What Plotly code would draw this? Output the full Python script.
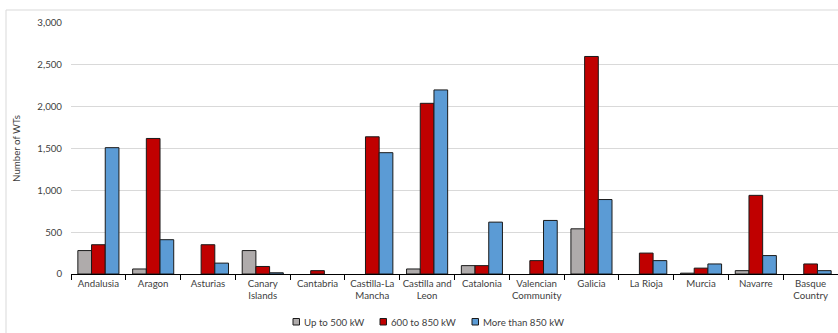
import plotly.graph_objects as go

regions = ["Andalusia", "Aragon", "Asturias", "Canary<br>Islands", "Cantabria",
           "Castilla-La<br>Mancha", "Castilla and<br>Leon", "Catalonia",
           "Valencian<br>Community", "Galicia", "La Rioja", "Murcia", "Navarre",
           "Basque<br>Country"]
up_to_500 = [280, 60, 0, 280, 0, 0, 60, 100, 0, 540, 0, 10, 40, 0]
kw_600_850 = [350, 1620, 350, 90, 40, 1640, 2040, 100, 160, 2600, 250, 70, 940, 120]
more_850 = [1510, 410, 130, 15, 0, 1450, 2200, 620, 640, 890, 160, 120, 220, 40]

series = [("Up to 500 kW", up_to_500, "#AFABAB"),
          ("600 to 850 kW", kw_600_850, "#C00000"),
          ("More than 850 kW", more_850, "#5B9BD5")]

FONT = "Lato"
FS = 9.7
TXT = "#404040"

L, R, T, B = 71, 0, 23, 59
W, H = 838, 333
pw, ph = W - L - R, H - T - B


def px_x(p):
    return (p - L) / pw


def px_y(p):
    return (H - B - p) / ph


fig = go.Figure()
for name, vals, col in series:
    fig.add_trace(go.Bar(x=regions, y=[v if v else None for v in vals], name=name,
                         marker=dict(color=col, line=dict(color="#1a1a1a", width=1))))

# custom legend (boxes + labels)
legend_pos = [(293, 302), (380, 389), (472, 481)]
shapes = [dict(type="rect", xref="paper", yref="paper",
               x0=px_x(6), x1=1.2, y0=-0.5, y1=px_y(10),
               line=dict(color="#D9D9D9", width=1), fillcolor="rgba(0,0,0,0)",
               layer="below")]
annotations = []
ly = 321.5
for (bx, tx), (name, _, col) in zip(legend_pos, series):
    shapes.append(dict(type="rect", xref="paper", yref="paper",
                       x0=px_x(bx), x1=px_x(bx + 6.5), y0=px_y(ly + 3.5), y1=px_y(ly - 3),
                       line=dict(color="#1a1a1a", width=1), fillcolor=col))
    annotations.append(dict(text=name, xref="paper", yref="paper", x=px_x(tx), y=px_y(ly),
                            xanchor="left", yanchor="middle", showarrow=False,
                            font=dict(family=FONT, size=FS, color=TXT)))

fig.update_layout(
    width=W, height=H,
    margin=dict(l=L, r=R, t=T, b=B, pad=0),
    paper_bgcolor="white", plot_bgcolor="white",
    barmode="group", bargap=0.25, bargroupgap=0,
    font=dict(family=FONT, size=FS, color=TXT),
    showlegend=False,
    xaxis=dict(showline=True, linecolor="#000000", linewidth=1,
               ticks="outside", tickson="boundaries", ticklen=5,
               tickcolor="#000000", tickangle=0, automargin=False,
               tickfont=dict(family=FONT, size=FS, color=TXT),
               showgrid=False, fixedrange=True),
    yaxis=dict(range=[0, 3000], dtick=500, tickformat=",d", automargin=False,
               showgrid=True, gridcolor="#D9D9D9", gridwidth=1,
               showline=False, zeroline=False, ticks="", ticklabelstandoff=8,
               tickfont=dict(family=FONT, size=FS, color=TXT),
               title=dict(text="Number of WTs", standoff=14,
                          font=dict(family=FONT, size=FS, color=TXT))),
    shapes=shapes,
    annotations=annotations,
)

fig.write_html("out.html", config={"displayModeBar": False},
               post_script="document.body.style.margin='0px';document.body.style.overflow='hidden';")
